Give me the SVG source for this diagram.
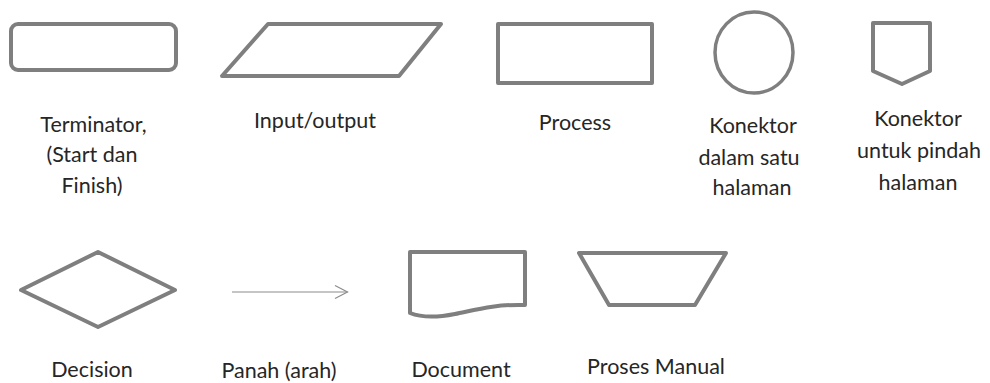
<svg xmlns="http://www.w3.org/2000/svg" width="990" height="383" viewBox="0 0 990 383">
<style>
.s{fill:none;stroke:#7f7f7f;stroke-width:4;stroke-linejoin:round}
.t{font-family:Lato,"Open Sans","Liberation Sans",sans-serif;font-size:21.5px;fill:#262626;text-anchor:middle}
.c{fill:none;stroke:#8c8c8c;stroke-width:1.2}
</style>
<rect width="990" height="383" fill="#fff"/>
<g id="terminator">
<rect class="s" x="11" y="24" width="165" height="46" rx="7"/>
<text class="t" x="93.5" y="131.5">Terminator,</text>
<text class="t" x="92" y="162">(Start dan</text>
<text class="t" x="92" y="192.5">Finish)</text>
</g>
<g id="inputoutput">
<polygon class="s" points="268,24 441,24 399,76 222,76"/>
<text class="t" x="315" y="128">Input/output</text>
</g>
<g id="process">
<rect class="s" x="498" y="24" width="154" height="59"/>
<text class="t" x="575" y="130">Process</text>
</g>
<g id="konektor-halaman">
<ellipse class="s" cx="754" cy="52.5" rx="39" ry="40.5" style="stroke-width:3.5"/>
<text class="t" x="753" y="133">Konektor</text>
<text class="t" x="749" y="164.5">dalam satu</text>
<text class="t" x="752" y="195">halaman</text>
</g>
<g id="konektor-pindah">
<polygon class="s" points="873,23 930,23 930,71 902,84 873,71"/>
<text class="t" x="918" y="126">Konektor</text>
<text class="t" x="919" y="158">untuk pindah</text>
<text class="t" x="918" y="190">halaman</text>
</g>
<g id="decision">
<polygon class="s" points="21,290 98,252 175,290 98,327"/>
<text class="t" x="92" y="377">Decision</text>
</g>
<g id="connectors">
<line class="c" x1="232" y1="292" x2="347.5" y2="292"/>
<polyline class="c" points="335,285.5 347.5,292 335,298.5" stroke-linejoin="miter"/>
</g>
<g id="panah-label">
<text class="t" x="279" y="377.5">Panah (arah)</text>
</g>
<g id="document">
<path class="s" d="M410,252 H525 V305 C495,304 475,310 455,314 C435,318 420,317 410,313 Z"/>
<text class="t" x="461" y="377">Document</text>
</g>
<g id="proses-manual">
<polygon class="s" points="579,253 726,253 695,305 609,305"/>
<text class="t" x="656" y="374">Proses Manual</text>
</g>
</svg>
